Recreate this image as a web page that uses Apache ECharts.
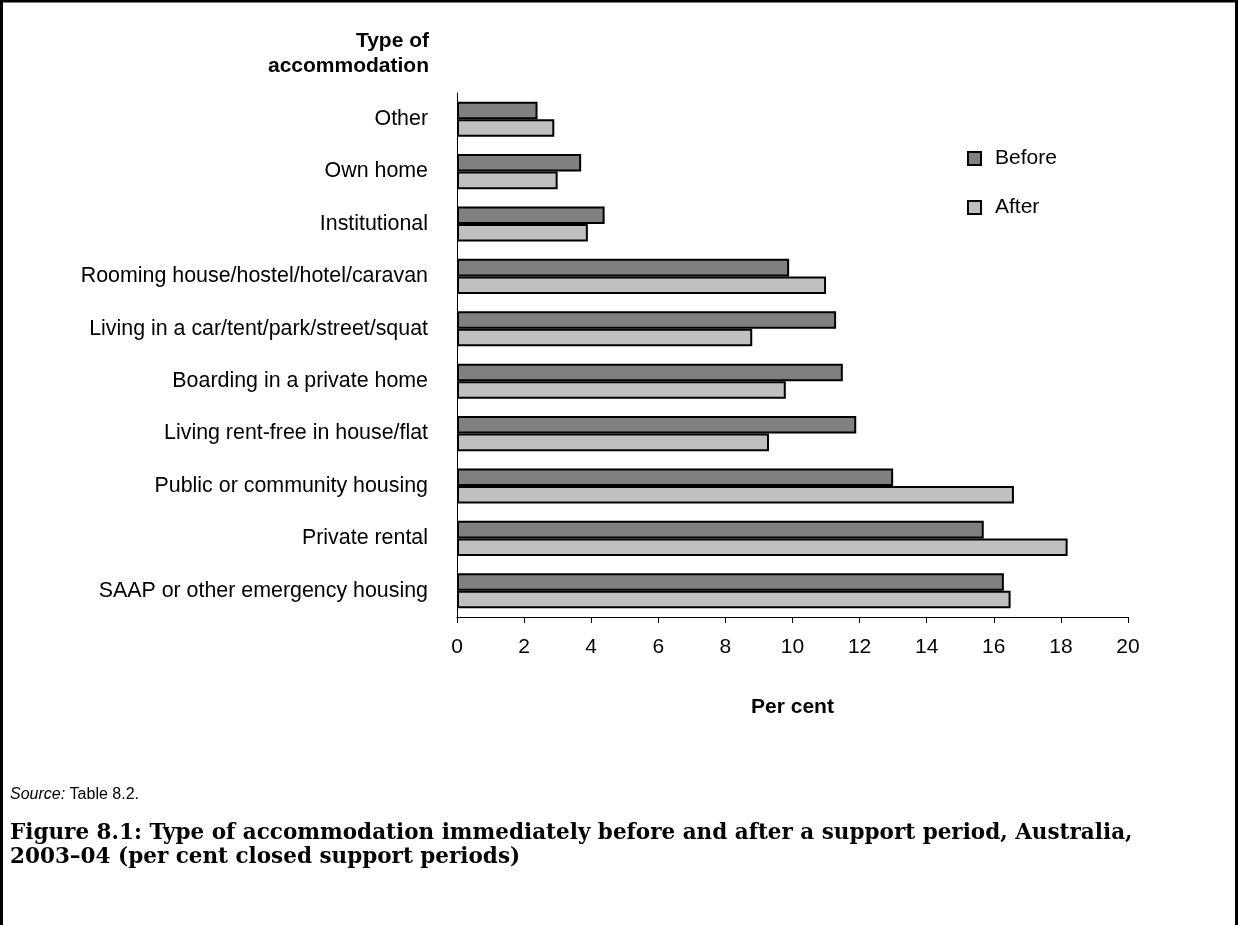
<!DOCTYPE html>
<html>
<head>
<meta charset="utf-8">
<script src="https://cdn.jsdelivr.net/npm/echarts@6/dist/echarts.min.js"></script>
<style>
  html, body { margin: 0; padding: 0; background: #fff; }
  #chart { width: 1238px; height: 925px; }
</style>
</head>
<body>
<div id="chart"></div>
<script>
// categories listed top to bottom
var categories = [
  'Other',
  'Own home',
  'Institutional',
  'Rooming house/hostel/hotel/caravan',
  'Living in a car/tent/park/street/squat',
  'Boarding in a private home',
  'Living rent-free in house/flat',
  'Public or community housing',
  'Private rental',
  'SAAP or other emergency housing'
];
var before = [2.4, 3.7, 4.4, 9.9, 11.3, 11.5, 11.9, 13.0, 15.7, 16.3];
var after = [2.9, 3.0, 3.9, 11.0, 8.8, 9.8, 9.3, 16.6, 18.2, 16.5];
var xTicks = { min: 0, max: 20, interval: 2 };

var sans = 'Liberation Sans, Arial, sans-serif';
var serif = 'DejaVu Serif, serif';

var myChart = echarts.init(document.getElementById('chart'));
myChart.setOption({
  animation: false,
  legend: {
    orient: 'vertical',
    left: 967,
    top: 148,
    padding: 0,
    itemWidth: 13,
    itemHeight: 13,
    itemGap: 28,
    icon: 'rect',
    textStyle: { fontFamily: sans, fontSize: 21, color: '#000', padding: [0, 0, 0, 9] },
    data: ['Before', 'After']
  },
  grid: { left: 457, right: 110, top: 93, bottom: 308, containLabel: false },
  xAxis: {
    type: 'value',
    min: xTicks.min,
    max: xTicks.max,
    interval: xTicks.interval,
    name: 'Per cent',
    nameLocation: 'middle',
    nameGap: 80,
    nameTextStyle: { fontFamily: sans, fontSize: 21, fontWeight: 'bold', color: '#000' },
    axisLine: { show: true, lineStyle: { color: '#000', width: 1 } },
    axisTick: { show: true, length: 6, lineStyle: { color: '#000' } },
    axisLabel: { fontFamily: sans, fontSize: 21, color: '#000', margin: 20 },
    splitLine: { show: false }
  },
  yAxis: {
    type: 'category',
    inverse: true,
    data: categories,
    axisLine: { show: true, lineStyle: { color: '#000', width: 1 } },
    axisTick: { show: false },
    axisLabel: { fontFamily: sans, fontSize: 21.4, color: '#000', margin: 29 }
  },
  series: [
    {
      name: 'Before',
      type: 'bar',
      data: before,
      barGap: '0%',
      barCategoryGap: '33%',
      itemStyle: { color: '#808080', borderColor: '#000', borderWidth: 2 }
    },
    {
      name: 'After',
      type: 'bar',
      data: after,
      itemStyle: { color: '#c0c0c0', borderColor: '#000', borderWidth: 2 }
    }
  ],
  graphic: [
    {
      type: 'polyline',
      shape: { points: [[1.5, 925], [1.5, 1], [1236.5, 1], [1236.5, 925]] },
      style: { stroke: '#000', lineWidth: 3, fill: null },
      silent: true
    },
    {
      type: 'text',
      x: 429,
      y: 29,
      style: {
        text: 'Type of\naccommodation',
        font: 'bold 21px ' + sans,
        fill: '#000',
        align: 'right',
        textAlign: 'right',
        lineHeight: 25
      }
    },
    {
      type: 'text',
      x: 10,
      y: 787,
      style: {
        text: '{i|Source:} Table 8.2.',
        font: '16px ' + sans,
        fill: '#000',
        rich: { i: { fontFamily: sans, fontSize: 16, fontStyle: 'italic', fill: '#000' } }
      }
    },
    {
      type: 'text',
      x: 10,
      y: 821,
      style: {
        text: 'Figure 8.1: Type of accommodation immediately before and after a support period, Australia,\n2003–04 (per cent closed support periods)',
        font: 'bold 21.5px ' + serif,
        fill: '#000',
        lineHeight: 24
      }
    }
  ]
});
</script>
</body>
</html>
